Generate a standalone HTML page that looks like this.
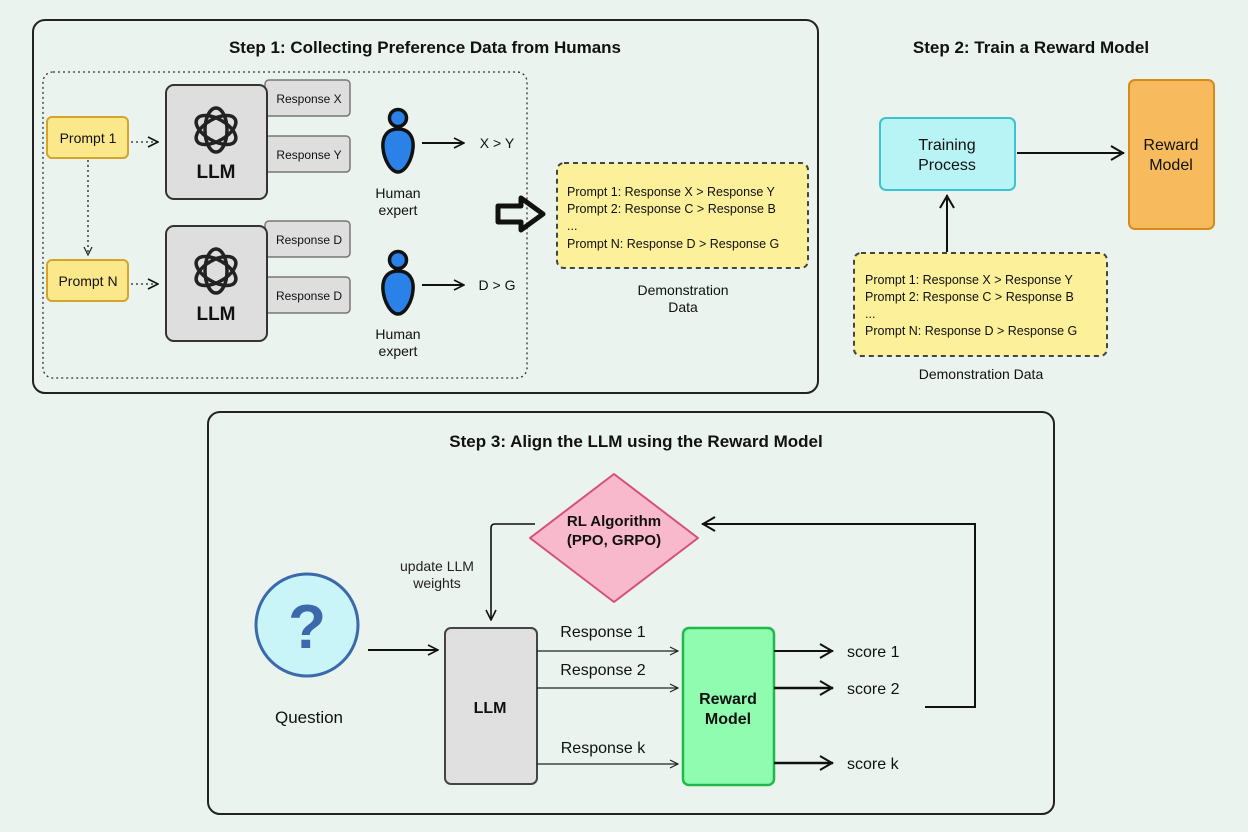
<!DOCTYPE html>
<html><head><meta charset="utf-8"><style>
html,body{margin:0;padding:0;background:#eaf3ee;}
svg{display:block;font-family:"Liberation Sans",sans-serif;}
</style></head><body>
<svg width="1248" height="832" viewBox="0 0 1248 832" xmlns="http://www.w3.org/2000/svg">
<defs>
<marker id="ah" viewBox="0 0 12 12" refX="11" refY="6" markerWidth="12" markerHeight="12" markerUnits="userSpaceOnUse" orient="auto"><path d="M1,1 L11,6 L1,11" fill="none" stroke="#111" stroke-width="1.6"/></marker>
<marker id="ahb" viewBox="0 0 16 16" refX="15" refY="8" markerWidth="16" markerHeight="16" markerUnits="userSpaceOnUse" orient="auto"><path d="M2,1 L14,8 L2,15" fill="none" stroke="#111" stroke-width="2"/></marker>
<marker id="ahs" viewBox="0 0 10 10" refX="9" refY="5" markerWidth="10" markerHeight="10" markerUnits="userSpaceOnUse" orient="auto"><path d="M1,1 L9,5 L1,9" fill="none" stroke="#222" stroke-width="1.2"/></marker>
<g id="logo" fill="none" stroke="#222" stroke-width="3.5">
<ellipse cx="0" cy="0" rx="11" ry="22"/>
<ellipse cx="0" cy="0" rx="11" ry="22" transform="rotate(60)"/>
<ellipse cx="0" cy="0" rx="11" ry="22" transform="rotate(120)"/>
</g>
<g id="human"><circle cx="0" cy="-24" r="8.5" fill="#2a82e8" stroke="#111" stroke-width="3.5"/><path d="M0,-13 C11,-13 16,-5 15,6 C14,18 7,30 0,30 C-7,30 -14,18 -15,6 C-16,-5 -11,-13 0,-13 Z" fill="#2a82e8" stroke="#111" stroke-width="3.5"/></g>
</defs>

<!-- Step 1 -->
<rect x="33" y="20" width="785" height="373" rx="12" fill="none" stroke="#222" stroke-width="2"/>
<text x="425" y="53" text-anchor="middle" font-size="17" font-weight="bold" fill="#111">Step 1: Collecting Preference Data from Humans</text>
<rect x="43" y="72" width="484" height="306" rx="10" fill="none" stroke="#333" stroke-width="1.3" stroke-dasharray="2,3"/>

<rect x="47" y="117" width="81" height="41" rx="5" fill="#fbe88a" stroke="#d4a52a" stroke-width="2"/>
<text x="88" y="143" text-anchor="middle" font-size="14" fill="#111">Prompt 1</text>
<rect x="47" y="260" width="81" height="41" rx="5" fill="#fbe88a" stroke="#d4a52a" stroke-width="2"/>
<text x="88" y="286" text-anchor="middle" font-size="14" fill="#111">Prompt N</text>
<line x1="88" y1="160" x2="88" y2="255" stroke="#222" stroke-width="1.3" stroke-dasharray="2,3" marker-end="url(#ahs)"/>
<line x1="131" y1="142" x2="158" y2="142" stroke="#222" stroke-width="1.3" stroke-dasharray="2,3" marker-end="url(#ah)"/>
<line x1="131" y1="284" x2="158" y2="284" stroke="#222" stroke-width="1.3" stroke-dasharray="2,3" marker-end="url(#ah)"/>

<rect x="265" y="80" width="85" height="36" rx="4" fill="#dedede" stroke="#777" stroke-width="1.5"/>
<text x="309" y="103" text-anchor="middle" font-size="12" fill="#111">Response X</text>
<rect x="265" y="136" width="85" height="36" rx="4" fill="#dedede" stroke="#777" stroke-width="1.5"/>
<text x="309" y="159" text-anchor="middle" font-size="12" fill="#111">Response Y</text>
<rect x="265" y="221" width="85" height="36" rx="4" fill="#dedede" stroke="#777" stroke-width="1.5"/>
<text x="309" y="244" text-anchor="middle" font-size="12" fill="#111">Response D</text>
<rect x="265" y="277" width="85" height="36" rx="4" fill="#dedede" stroke="#777" stroke-width="1.5"/>
<text x="309" y="300" text-anchor="middle" font-size="12" fill="#111">Response D</text>

<rect x="166" y="85" width="101" height="114" rx="8" fill="#dedede" stroke="#333" stroke-width="2"/>
<use href="#logo" x="216" y="130"/>
<text x="216" y="178" text-anchor="middle" font-size="19" font-weight="bold" fill="#111">LLM</text>
<rect x="166" y="226" width="101" height="115" rx="8" fill="#dedede" stroke="#333" stroke-width="2"/>
<use href="#logo" x="216" y="271"/>
<text x="216" y="320" text-anchor="middle" font-size="19" font-weight="bold" fill="#111">LLM</text>

<use href="#human" x="398" y="142"/>
<text x="398" y="198" text-anchor="middle" font-size="14" fill="#111">Human</text>
<text x="398" y="215" text-anchor="middle" font-size="14" fill="#111">expert</text>
<line x1="422" y1="143" x2="464" y2="143" stroke="#111" stroke-width="2" marker-end="url(#ah)"/>
<text x="497" y="148" text-anchor="middle" font-size="14" fill="#111">X &gt; Y</text>
<use href="#human" x="398" y="284"/>
<text x="398" y="339" text-anchor="middle" font-size="14" fill="#111">Human</text>
<text x="398" y="356" text-anchor="middle" font-size="14" fill="#111">expert</text>
<line x1="422" y1="285" x2="464" y2="285" stroke="#111" stroke-width="2" marker-end="url(#ah)"/>
<text x="497" y="290" text-anchor="middle" font-size="14" fill="#111">D &gt; G</text>

<path d="M498,206 L521,206 L521,198 L543,214 L521,230 L521,222 L498,222 Z" fill="none" stroke="#111" stroke-width="5" stroke-linejoin="round"/>

<rect x="557" y="163" width="251" height="105" rx="7" fill="#fcf09a" stroke="#444" stroke-width="2" stroke-dasharray="5,4"/>
<g font-size="12.5" fill="#111">
<text x="567" y="196">Prompt 1: Response X &gt; Response Y</text>
<text x="567" y="213">Prompt 2: Response C &gt; Response B</text>
<text x="567" y="230">...</text>
<text x="567" y="248">Prompt N: Response D &gt; Response G</text>
</g>
<text x="683" y="295" text-anchor="middle" font-size="14" fill="#111">Demonstration</text>
<text x="683" y="312" text-anchor="middle" font-size="14" fill="#111">Data</text>

<!-- Step 2 -->
<text x="1031" y="53" text-anchor="middle" font-size="17" font-weight="bold" fill="#111">Step 2: Train a Reward Model</text>
<rect x="880" y="118" width="135" height="72" rx="6" fill="#b8f3f5" stroke="#3cc4cc" stroke-width="2"/>
<text x="947" y="150" text-anchor="middle" font-size="16" fill="#111">Training</text>
<text x="947" y="170" text-anchor="middle" font-size="16" fill="#111">Process</text>
<line x1="1017" y1="153" x2="1124" y2="153" stroke="#111" stroke-width="2" marker-end="url(#ahb)"/>
<rect x="1129" y="80" width="85" height="149" rx="6" fill="#f7bb5d" stroke="#d68a1c" stroke-width="2"/>
<text x="1171" y="150" text-anchor="middle" font-size="16" fill="#111">Reward</text>
<text x="1171" y="170" text-anchor="middle" font-size="16" fill="#111">Model</text>
<line x1="947" y1="252" x2="947" y2="195" stroke="#111" stroke-width="2" marker-end="url(#ahb)"/>
<rect x="854" y="253" width="253" height="103" rx="7" fill="#fcf09a" stroke="#444" stroke-width="2" stroke-dasharray="5,4"/>
<g font-size="12.5" fill="#111">
<text x="865" y="284">Prompt 1: Response X &gt; Response Y</text>
<text x="865" y="301">Prompt 2: Response C &gt; Response B</text>
<text x="865" y="318">...</text>
<text x="865" y="335">Prompt N: Response D &gt; Response G</text>
</g>
<text x="981" y="379" text-anchor="middle" font-size="14" fill="#111">Demonstration Data</text>

<!-- Step 3 -->
<rect x="208" y="412" width="846" height="402" rx="12" fill="none" stroke="#222" stroke-width="2"/>
<text x="636" y="447" text-anchor="middle" font-size="17" font-weight="bold" fill="#111">Step 3: Align the LLM using the Reward Model</text>

<path d="M614,474 L698,538 L614,602 L530,538 Z" fill="#f8b9cc" stroke="#d4507a" stroke-width="2" stroke-linejoin="round"/>
<text x="614" y="526" text-anchor="middle" font-size="15" font-weight="bold" fill="#111">RL Algorithm</text>
<text x="614" y="545" text-anchor="middle" font-size="15" font-weight="bold" fill="#111">(PPO, GRPO)</text>
<path d="M535,524 L495,524 Q491,524 491,528 L491,620" fill="none" stroke="#111" stroke-width="1.6" marker-end="url(#ah)"/>
<text x="437" y="571" text-anchor="middle" font-size="14" fill="#222">update LLM</text>
<text x="437" y="588" text-anchor="middle" font-size="14" fill="#222">weights</text>
<path d="M925,707 L975,707 L975,524 L702,524" fill="none" stroke="#111" stroke-width="2" marker-end="url(#ahb)"/>

<circle cx="307" cy="625" r="51" fill="#c9f4f8" stroke="#3b69ab" stroke-width="3"/>
<text x="307" y="648" text-anchor="middle" font-size="62" font-weight="bold" fill="#3b69ab">?</text>
<text x="309" y="723" text-anchor="middle" font-size="17" fill="#111">Question</text>
<line x1="368" y1="650" x2="438" y2="650" stroke="#111" stroke-width="2" marker-end="url(#ah)"/>

<rect x="445" y="628" width="92" height="156" rx="6" fill="#e0e0e0" stroke="#444" stroke-width="2"/>
<text x="490" y="713" text-anchor="middle" font-size="16" font-weight="bold" fill="#111">LLM</text>
<rect x="683" y="628" width="91" height="157" rx="6" fill="#8ffcb0" stroke="#22b84a" stroke-width="2.5"/>
<text x="728" y="704" text-anchor="middle" font-size="16" font-weight="bold" fill="#111">Reward</text>
<text x="728" y="724" text-anchor="middle" font-size="16" font-weight="bold" fill="#111">Model</text>

<g font-size="16" fill="#111" text-anchor="middle">
<text x="603" y="637">Response 1</text>
<text x="603" y="675">Response 2</text>
<text x="603" y="753">Response k</text>
</g>
<line x1="537" y1="651" x2="678" y2="651" stroke="#222" stroke-width="1.2" marker-end="url(#ahs)"/>
<line x1="537" y1="688" x2="678" y2="688" stroke="#222" stroke-width="1.2" marker-end="url(#ahs)"/>
<line x1="537" y1="764" x2="678" y2="764" stroke="#222" stroke-width="1.2" marker-end="url(#ahs)"/>

<line x1="774" y1="651" x2="833" y2="651" stroke="#111" stroke-width="2" marker-end="url(#ahb)"/>
<line x1="774" y1="688" x2="833" y2="688" stroke="#111" stroke-width="2.5" marker-end="url(#ahb)"/>
<line x1="774" y1="763" x2="833" y2="763" stroke="#111" stroke-width="2.5" marker-end="url(#ahb)"/>
<g font-size="16" fill="#111">
<text x="847" y="657">score 1</text>
<text x="847" y="694">score 2</text>
<text x="847" y="769">score k</text>
</g>
</svg>
</body></html>
